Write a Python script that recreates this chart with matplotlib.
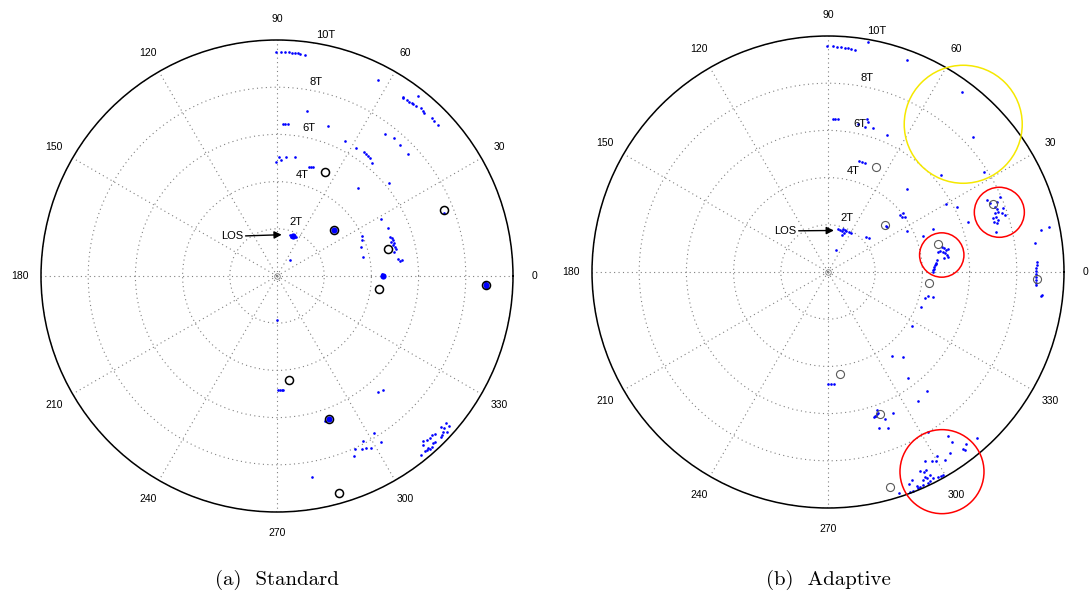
import numpy as np
import matplotlib.pyplot as plt
from matplotlib.patches import Circle

plt.rcParams['font.family'] = ['Liberation Sans', 'DejaVu Sans']

# positions are (east, north) in units of T
std_dots = [
    (-0.04, 9.51), (0.17, 9.49), (0.34, 9.49), (0.51, 9.48), (0.64, 9.47), (0.76, 9.45),
    (0.89, 9.43), (0.97, 9.41), (1.19, 9.38), (4.27, 8.31),
    (5.33, 7.60), (5.35, 7.53), (5.50, 7.46), (5.58, 7.39), (5.71, 7.34), (5.78, 7.29),
    (5.89, 7.22), (5.99, 7.64), (6.10, 7.10), (6.19, 7.00), (6.23, 6.91), (6.58, 6.69),
    (6.65, 6.58), (6.83, 6.41),
    (1.27, 6.99), (2.17, 6.36), (0.24, 6.44), (0.36, 6.44), (0.48, 6.44),
    (4.56, 6.02), (4.96, 5.85), (5.21, 5.55), (5.54, 5.17), (2.89, 5.72), (3.35, 5.44),
    (3.70, 5.27), (3.77, 5.17), (3.86, 5.08), (3.94, 5.00), (4.03, 4.80),
    (-0.04, 4.84), (0.08, 5.04), (0.17, 4.92), (0.38, 5.06), (0.76, 5.06),
    (1.37, 4.63), (1.45, 4.63), (1.54, 4.63),
    (3.45, 3.72), (4.76, 3.93), (4.39, 2.42), (4.69, 2.05),
    (4.79, 1.67), (4.86, 1.60), (4.83, 1.45), (4.93, 1.53), (4.96, 1.39), (4.90, 1.31),
    (5.00, 1.24), (5.04, 1.13), (5.14, 0.71), (5.21, 0.65), (5.28, 0.68), (4.96, 1.03),
    (3.60, 1.69), (3.60, 1.53), (3.57, 1.22), (3.66, 0.79),
    (4.45, 0.08), (4.50, -0.03), (4.53, 0.03),
    (0.55, 1.74), (0.64, 1.69), (0.72, 1.65), (0.81, 1.65), (0.59, 1.67),
    (0.54, 0.68), (0.00, -1.88), (7.06, 2.66),
    (8.83, -0.24), (8.86, -0.31), (8.89, -0.45), (8.86, -0.52),
    (0.06, -4.83), (0.13, -4.83), (0.20, -4.83), (0.27, -4.83),
    (4.29, -4.90), (4.50, -4.83), (2.03, -6.13),
    (4.11, -6.64), (4.41, -7.03), (3.63, -6.99), (3.32, -7.34), (3.59, -7.34),
    (3.77, -7.30), (3.97, -7.28), (3.26, -7.63), (1.48, -8.50),
    (7.15, -6.24), (7.29, -6.34), (7.09, -6.45), (6.95, -6.39), (7.05, -6.60),
    (6.98, -6.74), (7.19, -6.60), (6.95, -6.81), (6.69, -6.69), (6.56, -6.74),
    (6.48, -6.88), (6.34, -6.95), (6.17, -6.99), (6.20, -7.16), (6.69, -7.02),
    (6.62, -7.09), (6.41, -7.30), (6.34, -7.37), (6.48, -7.34), (6.27, -7.40),
    (6.10, -7.58), (6.56, -7.26),
]
std_blobs = [(2.43, 1.95), (2.20, -6.07), (0.69, 1.69), (8.86, -0.38), (4.50, 0.00)]
std_rings = [(2.03, 4.42), (2.43, 1.95), (4.69, 1.13), (7.06, 2.80), (4.33, -0.54),
             (8.86, -0.38), (0.51, -4.42), (2.20, -6.07), (2.64, -9.18)]
std_los = [(-1.45, 1.68), (0.20, 1.75)]

adp_dots = [
    (-0.06, 9.58), (0.21, 9.56), (0.38, 9.53), (0.55, 9.52), (0.72, 9.49), (0.85, 9.48),
    (0.97, 9.45), (1.14, 9.41), (1.71, 9.76),
    (3.36, 8.98), (5.69, 7.64), (6.16, 5.72), (4.79, 4.11), (6.61, 4.24),
    (0.20, 6.48), (0.30, 6.48), (0.44, 6.48),
    (1.28, 6.27), (1.57, 6.16), (1.64, 6.47), (1.71, 6.37), (1.92, 6.09), (2.51, 5.79),
    (1.33, 4.70), (1.45, 4.65), (1.57, 4.61), (3.36, 3.50),
    (3.05, 2.42), (3.19, 2.49), (3.12, 2.32), (3.26, 2.34), (3.33, 1.74),
    (2.49, 1.89), (2.45, 1.95), (1.61, 1.50), (1.75, 1.43),
    (0.51, 1.78), (0.64, 1.82), (0.76, 1.74), (0.89, 1.69), (0.97, 1.65), (0.68, 1.65),
    (0.42, 1.82), (0.58, 1.57), (0.60, 1.72), (0.72, 1.78), (0.34, 0.93),
    (4.04, 1.54), (4.44, 1.82), (5.00, 2.87), (5.48, 2.74), (5.95, 2.10),
    (4.82, 1.07), (4.92, 1.00), (5.00, 0.93), (5.07, 0.96), (4.96, 0.79), (5.03, 0.72),
    (4.89, 0.86), (4.75, 0.90), (4.65, 0.86), (5.10, 0.62), (4.93, 0.58), (4.61, 0.51),
    (4.53, 0.30), (4.46, 0.08), (4.44, 0.01), (4.58, 0.39), (4.50, 0.20), (4.56, 0.35),
    (4.49, 0.14),
    (7.15, 2.98), (7.29, 3.17), (7.08, 2.77), (7.15, 2.66), (7.22, 2.56), (7.08, 2.51),
    (7.36, 2.49), (7.12, 2.34), (7.00, 2.27), (7.22, 2.20), (7.03, 2.13), (7.15, 2.06),
    (7.40, 2.70), (7.50, 2.42), (7.12, 1.71), (6.75, 3.03), (6.86, 2.91),
    (4.12, -1.09), (4.25, -1.02), (4.46, -1.05), (3.94, -1.47),
    (9.38, 1.89), (9.03, 1.78), (8.77, 1.21),
    (8.86, 0.44), (8.84, 0.30), (8.83, 0.17), (8.81, 0.04), (8.81, -0.08), (8.80, -0.21),
    (8.80, -0.34), (8.80, -0.47), (8.80, -0.55),
    (9.01, -1.02), (9.08, -0.99),
    (3.55, -2.29), (2.72, -3.56), (3.16, -3.59), (3.40, -4.50), (4.18, -5.03), (3.80, -5.45),
    (0.01, -4.75), (0.13, -4.75), (0.25, -4.75),
    (1.96, -6.13), (2.02, -6.09), (2.06, -6.03), (2.13, -5.99), (2.09, -5.85), (1.99, -6.10),
    (2.42, -6.21), (2.77, -5.99), (2.17, -6.62), (2.53, -6.60), (4.22, -6.78), (3.01, -9.35),
    (5.10, -6.95), (5.24, -7.20), (6.30, -7.03), (5.85, -7.30), (5.71, -7.49), (5.82, -7.53),
    (5.17, -7.66), (4.62, -7.81), (4.96, -7.97), (4.59, -8.00), (4.41, -8.02), (4.11, -8.00),
    (3.90, -8.43), (4.07, -8.46), (4.14, -8.39), (4.31, -8.60), (4.12, -8.70), (4.21, -8.74),
    (4.04, -8.81), (4.32, -8.84), (3.55, -8.82), (3.45, -8.98), (3.76, -9.07), (3.90, -9.10),
    (4.01, -9.03), (4.67, -8.68), (4.77, -8.65), (4.88, -8.62), (4.46, -8.74), (4.25, -8.93),
    (3.62, -9.27), (3.47, -9.31), (3.83, -9.15),
]
adp_blobs = []
adp_rings = [(2.03, 4.46), (2.42, 1.99), (4.67, 1.19), (4.29, -0.48), (7.00, 2.87),
             (8.84, -0.31), (0.51, -4.34), (2.20, -6.02), (2.63, -9.10)]
adp_los = [(-1.36, 1.74), (0.25, 1.76)]

# highlight circles: x, y, radius (T)
red_marks = [(4.82, 0.72, 0.94), (7.26, 2.53, 1.06), (4.83, -8.46, 1.78)]
yellow_marks = [(5.73, 6.26, 2.50)]

angles = list(range(0, 360, 30))
rings = [2, 4, 6, 8, 10]

fig = plt.figure(figsize=(10.91, 5.99), dpi=100)


def to_polar(pts):
    xy = np.array(pts, dtype=float).reshape(-1, 2)
    return np.arctan2(xy[:, 1], xy[:, 0]), np.hypot(xy[:, 0], xy[:, 1])


def panel(rect, dots, blobs, rings_pts, ring_col, ring_lw, los, caption, cx):
    ax = fig.add_axes(rect, projection='polar')
    ax.set_rlim(0, 10)
    ax.set_rgrids(rings, labels=[])
    ax.set_thetagrids(angles, labels=[])
    ax.grid(color='0.5', linestyle=(0, (1, 3)), linewidth=0.8)
    ax.spines['polar'].set_linewidth(1.1)

    for a in angles:
        ax.text(np.radians(a), 10.9, str(a), ha='center', va='center', fontsize=7.5)
    for i in rings:
        ax.annotate(f'{i}T', xy=(np.radians(82), i + 0.1), xytext=(4, 0),
                    textcoords='offset points', ha='left', va='bottom',
                    fontsize=8, annotation_clip=False)

    t, r = to_polar(dots)
    ax.plot(t, r, 'o', color='#0000ff', ms=1.9, mew=0, clip_on=False)
    if blobs:
        t, r = to_polar(blobs)
        ax.plot(t, r, 'o', color='#0000ff', ms=4.5, mew=0)
    t, r = to_polar(rings_pts)
    ax.plot(t, r, 'o', mfc='none', mec=ring_col, ms=5.8, mew=ring_lw)
    ax.plot([0], [0], 'o', mfc='none', mec='0.5', ms=4, mew=0.6)

    ov = fig.add_axes(rect)
    ov.set_xlim(-10, 10)
    ov.set_ylim(-10, 10)
    ov.axis('off')
    ov.annotate('LOS', xy=los[1], xytext=los[0], ha='right', va='center', fontsize=8,
                arrowprops=dict(arrowstyle='-|>', color='black', lw=1.0,
                                mutation_scale=11, shrinkA=0, shrinkB=0))
    fig.text(cx, 1 - 580 / 599, caption, ha='center', va='center',
             fontsize=15, family='cmr10')
    return ov


W, H = 1091, 599
panel([41 / W, 1 - 512 / H, 472 / W, 472 / H], std_dots, std_blobs, std_rings,
      'black', 1.1, std_los, '(a)  Standard', 277 / W)
ov = panel([592 / W, 1 - 508 / H, 472 / W, 472 / H], adp_dots, adp_blobs, adp_rings,
           '0.35', 0.8, adp_los, '(b)  Adaptive', 828 / W)

for x, y, rad in red_marks:
    ov.add_patch(Circle((x, y), rad, fill=False, ec='#ff0000', lw=1.1, clip_on=False))
for x, y, rad in yellow_marks:
    ov.add_patch(Circle((x, y), rad, fill=False, ec='#f5e800', lw=1.1, clip_on=False))

fig.savefig('out.png', dpi=100)
